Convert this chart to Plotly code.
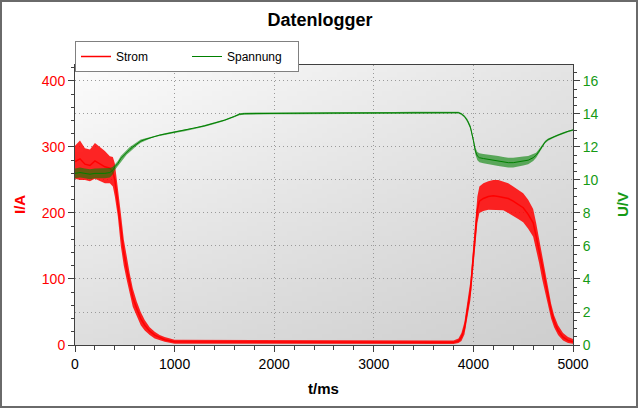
import base64
import struct
import zlib
import plotly.graph_objects as go

# ---------------- data ----------------
t_ms = [0, 50, 100, 150, 200, 250, 300, 350,
        380, 400, 430, 460, 490, 520, 550, 580,
        620, 660, 700, 750, 800, 850, 900,
        1000, 1100, 1200, 1300, 1400, 1500, 1600, 1650, 1700, 1800,
        2000, 2200, 2400, 2600, 2800, 3000, 3200, 3400, 3600, 3800,
        3850, 3880, 3910, 3940, 3970, 4000, 4020, 4040, 4060,
        4100, 4150, 4200, 4250, 4300, 4350, 4400, 4450, 4500, 4550, 4600,
        4630, 4660, 4690, 4720, 4750, 4780, 4810, 4850, 4900, 4950, 5000]

strom_a = [278, 282, 274, 272, 279, 275, 270, 268,
           262, 250, 215, 175, 140, 115, 92, 72,
           55, 40, 30, 21, 15, 11, 8,
           5, 4.5, 4.5, 4.5, 4.5, 4.5, 4.5, 4.5, 4, 4,
           4, 4, 4, 4, 4, 4, 4, 4, 4, 4,
           6, 12, 25, 55, 82, 135, 175, 205, 218,
           222, 225, 226, 225, 224, 222, 218, 213, 208, 198, 185,
           165, 142, 118, 95, 72, 52, 36, 22, 12, 7, 5]

strom_max = [302, 310, 298, 296, 306, 300, 294, 286,
             285, 275, 240, 200, 160, 132, 108, 86,
             66, 50, 38, 27, 20, 15, 12,
             8, 8, 8, 8, 8, 8, 8, 8, 7, 7,
             7, 7, 7, 7, 7, 7, 7, 7, 7, 7,
             10, 18, 35, 68, 97, 152, 195, 225, 240,
             245, 248, 250, 250, 248, 245, 240, 235, 230, 220, 206,
             185, 160, 135, 110, 85, 63, 45, 30, 18, 12, 9]

strom_min = [252, 250, 250, 248, 252, 248, 245, 245,
             240, 225, 195, 150, 120, 98, 78, 58,
             44, 30, 22, 15, 10, 7, 5,
             2, 2, 2, 2, 2, 2, 2, 2, 1.5, 1.5,
             1.5, 1.5, 1.5, 1.5, 1.5, 1.5, 1.5, 1.5, 1.5, 1.5,
             3, 6, 16, 42, 68, 118, 158, 185, 200,
             203, 205, 205, 205, 204, 200, 196, 191, 186, 176, 164,
             145, 124, 100, 80, 58, 40, 27, 15, 7, 3, 2]

spannung_v = [10.4, 10.45, 10.4, 10.35, 10.4, 10.4, 10.4, 10.45,
              10.6, 10.8, 11.0, 11.3, 11.5, 11.7, 11.85, 12.0,
              12.2, 12.35, 12.45, 12.55, 12.65, 12.72, 12.78,
              12.9, 13.0, 13.12, 13.28, 13.45, 13.62, 13.85, 13.98, 14.02, 14.03,
              14.03, 14.04, 14.05, 14.06, 14.06, 14.07, 14.07, 14.08, 14.09, 14.1,
              14.08, 14.0, 13.85, 13.6, 13.2, 12.4, 11.75, 11.45, 11.35,
              11.3, 11.25, 11.2, 11.15, 11.1, 11.05, 11.05, 11.1, 11.15, 11.2, 11.35,
              11.5, 11.75, 12.0, 12.3, 12.45, 12.55, 12.62, 12.72, 12.85, 12.95, 13.03]

spannung_max = [10.7, 10.75, 10.7, 10.65, 10.7, 10.7, 10.7, 10.72,
                10.8, 10.95, 11.15, 11.45, 11.65, 11.85, 12.0, 12.12,
                12.3, 12.45, 12.52, 12.6, 12.7, 12.77, 12.83,
                12.95, 13.05, 13.17, 13.33, 13.5, 13.67, 13.9, 14.04, 14.08, 14.08,
                14.08, 14.09, 14.1, 14.11, 14.11, 14.12, 14.12, 14.13, 14.14, 14.15,
                14.13, 14.06, 13.92, 13.7, 13.32, 12.55, 11.95, 11.7, 11.62,
                11.58, 11.55, 11.5, 11.45, 11.4, 11.35, 11.35, 11.4, 11.42, 11.45, 11.55,
                11.65, 11.88, 12.1, 12.38, 12.52, 12.61, 12.68, 12.77, 12.9, 13.0, 13.08]

spannung_min = [10.1, 10.15, 10.1, 10.05, 10.1, 10.1, 10.1, 10.15,
                10.35, 10.6, 10.85, 11.1, 11.35, 11.55, 11.7, 11.88,
                12.08, 12.25, 12.38, 12.5, 12.6, 12.67, 12.73,
                12.85, 12.95, 13.07, 13.23, 13.4, 13.57, 13.8, 13.92, 13.96, 13.98,
                13.98, 13.99, 14.0, 14.01, 14.01, 14.02, 14.02, 14.03, 14.04, 14.05,
                14.03, 13.94, 13.78, 13.5, 13.08, 12.25, 11.55, 11.2, 11.08,
                11.02, 10.95, 10.9, 10.85, 10.8, 10.75, 10.75, 10.8, 10.88, 10.95, 11.15,
                11.35, 11.62, 11.9, 12.22, 12.38, 12.49, 12.56, 12.67, 12.8, 12.9, 12.98]

x_tick_vals = [0, 1000, 2000, 3000, 4000, 5000]
i_tick_vals = [0, 100, 200, 300, 400]
u_tick_vals = [0, 2, 4, 6, 8, 10, 12, 14, 16]

# ---------------- styling ----------------
FONT = "Arial, Liberation Sans, sans-serif"
RED = "#ff0000"
GREEN = "#008000"
GREEN_TXT = "#159a15"
AXIS = "#404040"
GRID = "#9a9a9a"
GRID_DASH = "1px,3px"
I_MAX = 424.2
U_MAX = I_MAX / 25.0


def gradient_png(w, h, tl, tr, bl, br):
    raw = bytearray()
    for j in range(h):
        v = j / (h - 1)
        raw.append(0)
        for i in range(w):
            u = i / (w - 1)
            c = tl * (1 - u) * (1 - v) + tr * u * (1 - v) + bl * (1 - u) * v + br * u * v
            g = int(round(c))
            raw += bytes([g, g, g])

    def chunk(tag, data):
        return (struct.pack(">I", len(data)) + tag + data +
                struct.pack(">I", zlib.crc32(tag + data) & 0xFFFFFFFF))

    png = (b"\x89PNG\r\n\x1a\n" +
           chunk(b"IHDR", struct.pack(">IIBBBBB", w, h, 8, 2, 0, 0, 0)) +
           chunk(b"IDAT", zlib.compress(bytes(raw))) +
           chunk(b"IEND", b""))
    return "data:image/png;base64," + base64.b64encode(png).decode()


fig = go.Figure()

# Strom: noise band + centre line
fig.add_trace(go.Scatter(x=t_ms, y=strom_max, mode="lines", line=dict(width=0, color=RED),
                         showlegend=False, hoverinfo="skip"))
fig.add_trace(go.Scatter(x=t_ms, y=strom_min, mode="lines", line=dict(width=0, color=RED),
                         fill="tonexty", fillcolor="rgba(255,0,0,0.85)",
                         showlegend=False, hoverinfo="skip"))
fig.add_trace(go.Scatter(x=t_ms, y=strom_a, mode="lines", name="Strom",
                         line=dict(width=1.5, color=RED)))

# Spannung: noise band + centre line (right axis)
fig.add_trace(go.Scatter(x=t_ms, y=spannung_max, mode="lines", yaxis="y2",
                         line=dict(width=0, color=GREEN), showlegend=False, hoverinfo="skip"))
fig.add_trace(go.Scatter(x=t_ms, y=spannung_min, mode="lines", yaxis="y2",
                         line=dict(width=0, color=GREEN), fill="tonexty",
                         fillcolor="rgba(0,128,0,0.6)", showlegend=False, hoverinfo="skip"))
fig.add_trace(go.Scatter(x=t_ms, y=spannung_v, mode="lines", name="Spannung", yaxis="y2",
                         line=dict(width=1, color=GREEN)))

axis_common = dict(showline=True, linecolor=AXIS, linewidth=1, tickcolor=AXIS,
                   zeroline=False, tickfont=dict(family=FONT, size=14))

fig.update_layout(
    width=640, height=409,
    margin=dict(l=75, r=67, t=65, b=64),
    paper_bgcolor="white",
    plot_bgcolor="white",
    font=dict(family=FONT, size=12, color="black"),
    title=dict(text="<b>Datenlogger</b>", x=0.5, xanchor="center", y=1 - 20 / 409,
               yanchor="middle", font=dict(family=FONT, size=18, color="black")),
    showlegend=True,
    legend=dict(orientation="h", x=0.0, y=(345 - 41) / 280, xanchor="left", yanchor="top",
                bgcolor="white", bordercolor="#808080", borderwidth=1,
                font=dict(family=FONT, size=12, color="black"),
                entrywidth=66, entrywidthmode="pixels", traceorder="normal",
                itemwidth=30),
    xaxis=dict(range=[0, 5000], tickvals=x_tick_vals, ticks="outside", ticklen=6,
               mirror=True, showgrid=True, gridcolor=GRID, griddash=GRID_DASH, gridwidth=1,
               minor=dict(dtick=200, tick0=0, ticks="outside", ticklen=4, tickcolor=AXIS,
                          showgrid=False),
               **axis_common),
    xaxis2=dict(range=[0, 5000], overlaying="x", side="top", tickvals=x_tick_vals,
                ticks="inside", ticklen=4, tickcolor=AXIS, showticklabels=False,
                showgrid=False, zeroline=False, showline=False,
                minor=dict(dtick=200, tick0=0, ticks="inside", ticklen=3, tickcolor=AXIS,
                           showgrid=False)),
    yaxis=dict(range=[0, I_MAX], tickvals=i_tick_vals, ticks="outside", ticklen=6,
               showgrid=False,
               minor=dict(dtick=20, tick0=0, ticks="outside", ticklen=3, tickcolor=AXIS,
                          showgrid=False),
               **{**axis_common, "tickfont": dict(family=FONT, size=14, color=RED)}),
    yaxis2=dict(range=[0, U_MAX], overlaying="y", side="right", tickvals=u_tick_vals,
                ticks="outside", ticklen=6, showgrid=True, gridcolor=GRID, griddash=GRID_DASH,
                gridwidth=1,
                minor=dict(dtick=0.5, tick0=0, ticks="outside", ticklen=3, tickcolor=AXIS,
                           showgrid=False),
                **{**axis_common, "tickfont": dict(family=FONT, size=14, color=GREEN_TXT)}),
    images=[dict(source=gradient_png(100, 60, 252, 228, 222, 206), xref="x", yref="y",
                 x=0, y=I_MAX, sizex=5000, sizey=I_MAX, sizing="stretch",
                 xanchor="left", yanchor="top", layer="below")],
    annotations=[
        dict(text="<b>I/A</b>", xref="paper", yref="paper", x=(19 - 75) / 498, y=0.5,
             xanchor="center", yanchor="middle", textangle=-90, showarrow=False,
             font=dict(family=FONT, size=15, color=RED)),
        dict(text="<b>U/V</b>", xref="paper", yref="paper", x=(622 - 75) / 498, y=0.5,
             xanchor="center", yanchor="middle", textangle=-90, showarrow=False,
             font=dict(family=FONT, size=15, color=GREEN_TXT)),
        dict(text="<b>t/ms</b>", xref="paper", yref="paper", x=(323 - 75) / 498,
             y=(345 - 388) / 280, xanchor="center", yanchor="middle", showarrow=False,
             font=dict(family=FONT, size=15, color="black")),
    ],
    shapes=[dict(type="rect", xref="paper", yref="paper",
                 x0=(1 - 75) / 498, x1=(637 - 75) / 498,
                 y0=(345 - 407) / 280, y1=(345 - 1) / 280,
                 line=dict(color="#6a6a6a", width=2), fillcolor="rgba(0,0,0,0)",
                 layer="above")],
)

fig.write_html("out.html", config={"displayModeBar": False},
               post_script="document.body.style.margin='0px';document.body.style.overflow='hidden';")
